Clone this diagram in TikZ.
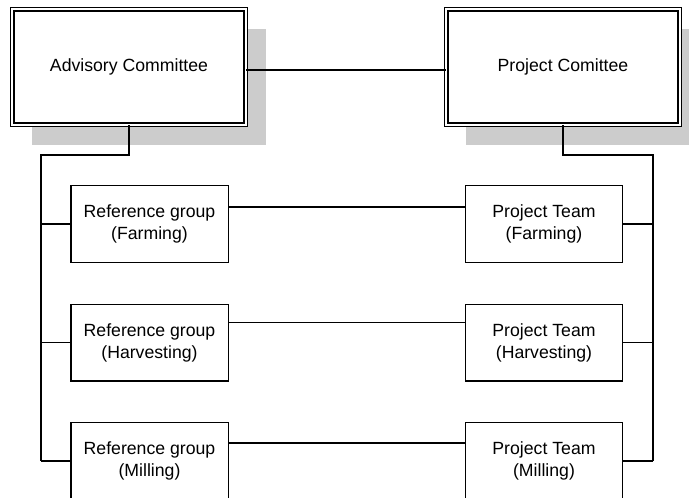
\documentclass[tikz,border=0pt]{standalone}
\usepackage{fontspec}
\setmainfont{Liberation Sans}
\usetikzlibrary{calc,shadows}

\begin{document}
\begin{tikzpicture}[x=0.75pt,y=-0.75pt,
  every node/.style={font=\fontsize{13.25}{16.5}\selectfont},
  committee/.style={draw,fill=white,double,line width=0.9pt,double distance=1.5pt,
    minimum width=175pt,minimum height=86.5pt,inner sep=0pt,
    general shadow={fill=gray!40,shadow xshift=15pt,shadow yshift=-15pt}},
  group/.style={draw,fill=white,line width=1pt,minimum width=118pt,minimum height=57.5pt,
    inner sep=0pt,align=center},
  trunk/.style={line width=1.5pt},
  stub/.style={line width=1pt},
  link/.style={line width=0.8pt}]
\useasboundingbox (0,0) rectangle (689,497);
% committees
\node[committee] (adv) at (129,67) {Advisory Committee};
\node[committee] (proj) at (563,67) {Project Comittee};
\draw[link] ($(adv.east)+(0,3)$) -- ($(proj.west)+(0,3)$);
% reference groups and project teams
\node[group] (ref1) at (149.5,224) {Reference group\\(Farming)};
\node[group] (ref2) at (149.5,342.5) {Reference group\\(Harvesting)};
\node[group] (ref3) at (149.5,461) {Reference group\\(Milling)};
\node[group] (team1) at (544,224) {Project Team\\(Farming)};
\node[group] (team2) at (544,342.5) {Project Team\\(Harvesting)};
\node[group] (team3) at (544,461) {Project Team\\(Milling)};
\draw[link] ($(ref1.north east)+(0,22)$) -- ($(team1.north west)+(0,22)$);
\draw[link] ($(ref2.north east)+(0,19)$) -- ($(team2.north west)+(0,19)$);
\draw[link] ($(ref3.north east)+(0,21)$) -- ($(team3.north west)+(0,21)$);
% left side
\coordinate (lbend) at (41,155);
\draw[trunk] (adv.south) |- (lbend) -- (lbend |- ref3.west);
\draw[stub] (lbend |- ref1.west) -- (ref1.west);
\draw[stub] (lbend |- ref2.west) -- (ref2.west);
\draw[stub] (lbend |- ref3.west) -- (ref3.west);
% right side
\coordinate (rbend) at (653,155);
\draw[trunk] (proj.south) |- (rbend) -- (rbend |- team3.east);
\draw[stub] (rbend |- team1.east) -- (team1.east);
\draw[stub] (rbend |- team2.east) -- (team2.east);
\draw[stub] (rbend |- team3.east) -- (team3.east);
\end{tikzpicture}
\end{document}
